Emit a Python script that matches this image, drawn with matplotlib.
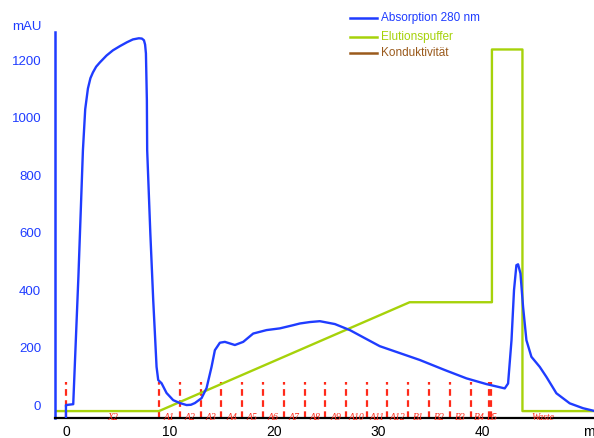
import matplotlib
matplotlib.use("Agg")
import matplotlib.pyplot as plt
from matplotlib.lines import Line2D

plt.rcParams['font.family'] = ['Liberation Sans', 'DejaVu Sans']

# UV trace (volume in ml, absorbance in mAU)
uv_ml = [0.0, 0.0, 0.7, 1.2, 1.63, 1.85, 2.11, 2.35, 2.59, 2.9, 3.26, 3.9,
         4.51, 5.2, 5.85, 6.43, 7.0, 7.29, 7.49, 7.6, 7.68, 7.77, 7.8, 8.1,
         8.38, 8.54, 8.7, 8.86, 9.18, 9.66, 10.3, 10.94, 11.58, 12.0, 12.38,
         13.02, 13.5, 13.98, 14.3, 14.78, 15.26, 15.7, 16.22, 17.02, 17.98,
         19.26, 20.54, 21.81, 22.46, 23.42, 24.38, 25.82, 27.26, 28.69, 30.13,
         32.05, 33.97, 36.37, 38.45, 40.37, 42.13, 42.45, 42.78, 43.02, 43.25,
         43.41, 43.64, 43.89, 44.21, 44.69, 45.49, 46.13, 47.09, 48.37, 49.65,
         50.67]
uv_mau = [-45, 0, 3, 450, 887, 1030, 1102, 1138, 1158, 1178, 1193, 1217,
          1235, 1250, 1263, 1273, 1277, 1276, 1270, 1255, 1224, 1061, 887, 600,
          365, 250, 133, 87, 76, 42, 17, 7, 0, 1, 7,
          24, 59, 133, 191, 217, 220, 215, 209, 220, 249,
          261, 267, 278, 284, 289, 292, 282, 261, 233, 205,
          181, 157, 122, 93, 73, 58, 75, 226, 400, 487,
          490, 458, 342, 226, 168, 133, 98, 41, 6, -11,
          -20]

# elution buffer gradient
buf_ml = [-1.05, 8.93, 33.0, 40.9, 40.9, 43.83, 43.83, 50.7]
buf_val = [-21, -21, 358, 358, 1238, 1238, -21, -21]

# fraction collector marks
frac_ml = [0.0, 8.93, 10.93, 12.93, 14.92, 16.9, 18.9, 20.92, 22.92, 24.92,
           26.9, 28.9, 30.87, 32.86, 34.87, 36.85, 38.85, 40.62, 40.85]
frac_names = ['X2', 'A1', 'A2', 'A3', 'A4', 'A5', 'A6', 'A7', 'A8', 'A9',
              'A10', 'A11', 'A12', 'B1', 'B2', 'B3', 'B4', 'B5', 'Waste']
frac_end = 50.7

x_ticks = [0, 10, 20, 30, 40]
y_ticks = [0, 200, 400, 600, 800, 1000, 1200]

blue = '#1f3cff'
green = '#a6d20a'
brown = '#9a5a1c'
red = '#ff2a1a'

fig = plt.figure(figsize=(5.94, 4.38), dpi=100)
ax = fig.add_axes([0.0926, 0.0457, 0.9074, 0.882])

ax.vlines(frac_ml, -45, 82, colors=red, linestyles=(0, (3, 2)), linewidth=1.6, zorder=1)
ax.plot(buf_ml, buf_val, color=green, lw=1.7, zorder=2)
ax.plot(uv_ml, uv_mau, color=blue, lw=1.7, zorder=3)

# fraction names centred in each fraction, sitting on the baseline
edges = frac_ml + [frac_end]
for i, name in enumerate(frac_names):
    xm = (edges[i] + edges[i + 1]) / 2
    if name == 'B5':
        xm = 40.96
    ax.text(xm, -45, name, color=red, fontsize=7, ha='center', va='center',
            family=['Liberation Serif', 'DejaVu Serif'], style='italic', zorder=4)

ax.set_xlim(-1.05, 50.7)
ax.set_ylim(-45, 1300)
ax.set_xticks(x_ticks)
ax.set_yticks(y_ticks)
ax.tick_params(axis='y', length=0, pad=10, labelsize=9.5, labelcolor=blue)
ax.tick_params(axis='x', length=0, pad=5, labelsize=10, labelcolor='black')

for s in ['top', 'right']:
    ax.spines[s].set_visible(False)
ax.spines['left'].set_color(blue)
ax.spines['left'].set_linewidth(1.8)
ax.spines['bottom'].set_color('black')
ax.spines['bottom'].set_linewidth(1.6)

fig.text(27 / 594, 1 - 27 / 438, 'mAU', color=blue, fontsize=9.5, ha='center', va='center')
fig.text(583 / 594, 1 - 432 / 438, 'ml', color='black', fontsize=10, ha='left', va='center')

# legend drawn by hand at the top right
legend_rows = [('Absorption 280 nm', blue, 17.5), ('Elutionspuffer', green, 36.7),
               ('Konduktivität', brown, 52.7)]
for label, col, ypx in legend_rows:
    yf = 1 - ypx / 438
    fig.add_artist(Line2D([350 / 594, 377 / 594], [yf, yf], color=col, lw=1.8))
    fig.text(381 / 594, yf, label, color=col, fontsize=8.5, ha='left', va='center')

fig.savefig('out.png', dpi=100)
